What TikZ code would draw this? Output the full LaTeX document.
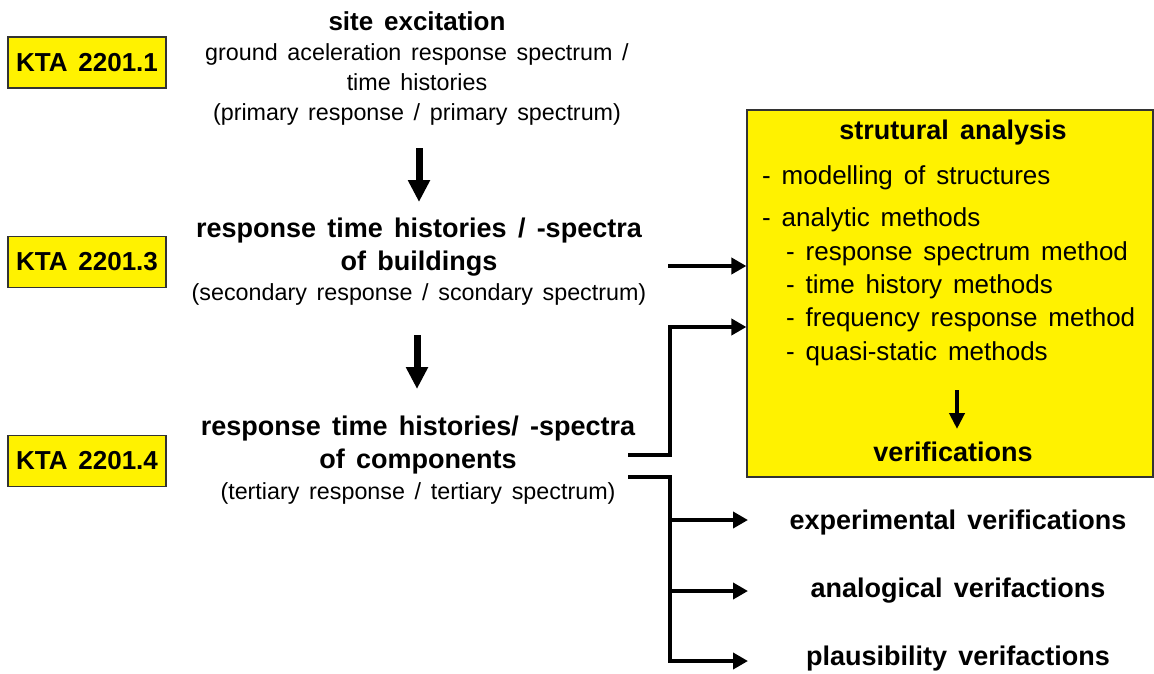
\documentclass[tikz,border=0pt]{standalone}
\usepackage{fontspec}
\setmainfont[WordSpace=1.5]{Liberation Sans}
\usetikzlibrary{arrows.meta}
\begin{document}
\begin{tikzpicture}[x=1pt,y=-1pt,
  kta/.style={draw=black!80, line width=1.2pt, fill=yellow, minimum width=158pt, minimum height=51pt, inner sep=0pt, font=\fontsize{26}{28}\selectfont\bfseries},
  blk/.style={align=center, inner sep=0pt, font=\fontsize{23.3}{30}\selectfont},
  hd/.style={font=\fontsize{27}{33}\selectfont\bfseries, inner sep=0pt},
  itm/.style={anchor=west, inner sep=0pt, font=\fontsize{26}{28}\selectfont},
  conn/.style={line width=4.5pt, -{Triangle[length=15pt,width=16pt]}},
  bigarr/.style={line width=7pt, -{Triangle[length=22pt,width=21pt]}},
  smallarr/.style={line width=4pt, -{Triangle[length=16pt,width=15pt]}},
  bracket/.style={line width=4.5pt}
]
\useasboundingbox (0,0) rectangle (1154,673);

% KTA labels
\node[kta] (k1) at (87,62.5) {KTA 2201.1};
\node[kta] (k3) at (87,262) {KTA 2201.3};
\node[kta] (k4) at (87,461) {KTA 2201.4};

% left column blocks
\node[blk] (b1) at (417,68) {{\fontsize{26}{32}\selectfont\bfseries site excitation}\\ground aceleration response spectrum /\\time histories\\(primary response / primary spectrum)};
\node[hd, align=center] (b2) at (419,247) {response time histories / -spectra\\of buildings};
\node[blk] (b2s) at (419,294) {(secondary response / scondary spectrum)};
\node[hd, align=center] (b3) at (418,445) {response time histories/ -spectra\\of components};
\node[blk] (b3s) at (418,493) {(tertiary response / tertiary spectrum)};

% vertical arrows
\coordinate (a1s) at (419,148);
\coordinate (a1e) at (419,202);
\coordinate (a2s) at (417,335);
\coordinate (a2e) at (417,389);
\draw[bigarr] (a1s) -- (a1e);
\draw[bigarr] (a2s) -- (a2e);

% structural analysis box
\node[draw=black!80, line width=1.2pt, fill=yellow, minimum width=406pt, minimum height=367pt, inner sep=0pt] (box) at (950,293.5) {};
\node[hd] (sa) at (953,133) {strutural analysis};
\node[itm] (i1) at (762,178) {- modelling of structures};
\node[itm] (i2) at (762,220) {- analytic methods};
\node[itm] (i3) at (786,254) {- response spectrum method};
\node[itm] (i4) at (786,287) {- time history methods};
\node[itm] (i5) at (786,320) {- frequency response method};
\node[itm] (i6) at (786,354) {- quasi-static methods};
\coordinate (s1) at (957,390);
\coordinate (s2) at (957,429);
\draw[smallarr] (s1) -- (s2);
\node[hd] (ver) at (953,452) {verifications};

% connectors to box
\coordinate (c1) at (668,266);
\draw[conn] (c1) -- (c1 -| box.west);
\coordinate (c2) at (628,455);
\coordinate (c2b) at (670,455);
\coordinate (c2t) at (670,327);
\draw[conn] (c2) -- (c2b) -- (c2t) -- (c2t -| box.west);

% lower bracket
\coordinate (d0) at (628,477);
\coordinate (d1) at (670,477);
\coordinate (e1) at (670,520);
\coordinate (e2) at (670,591);
\coordinate (e3) at (670,661);
\coordinate (f1) at (748,520);
\coordinate (f2) at (748,591);
\coordinate (f3) at (748,661);
\node[hd] (v1) at (958,523) {experimental verifications};
\node[hd] (v2) at (958,591) {analogical verifactions};
\node[hd] (v3) at (958,659) {plausibility verifactions};
\draw[bracket] (d0) -- (d1) -- (e1);
\draw[conn] (e1) -- (e3) -- (f3);
\draw[conn] (e1) -- (f1);
\draw[conn] (e2) -- (f2);
\end{tikzpicture}
\end{document}
